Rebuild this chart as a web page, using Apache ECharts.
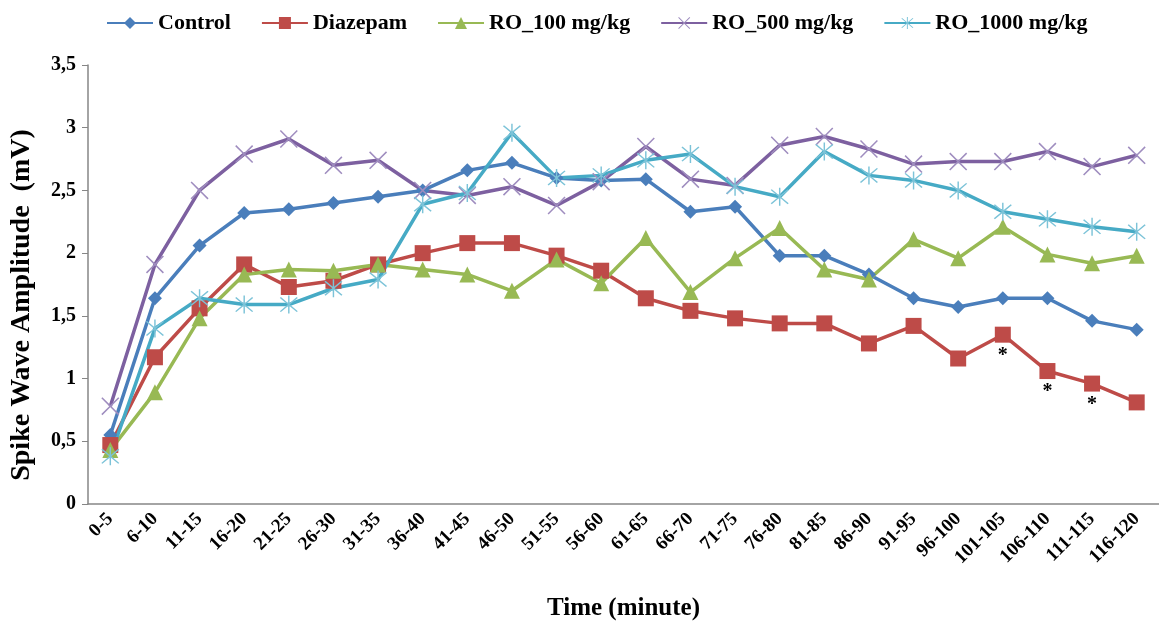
<!DOCTYPE html>
<html>
<head>
<meta charset="utf-8">
<script src="https://cdn.jsdelivr.net/npm/echarts@6/dist/echarts.min.js"></script>
<style>
  html, body { margin: 0; padding: 0; background: #fff; }
  #chart { width: 1159px; height: 626px; }
</style>
</head>
<body>
<div id="chart"></div>
<script>
// Time bins (minutes)
const categories = ['0-5','6-10','11-15','16-20','21-25','26-30','31-35','36-40','41-45','46-50','51-55','56-60',
  '61-65','66-70','71-75','76-80','81-85','86-90','91-95','96-100','101-105','106-110','111-115','116-120'];

// Spike wave amplitude (mV) per group
const control  = [0.55,1.64,2.06,2.32,2.35,2.40,2.45,2.50,2.66,2.72,2.60,2.58,2.59,2.33,2.37,1.98,1.98,1.83,1.64,1.57,1.64,1.64,1.46,1.39];
const diazepam = [0.47,1.17,1.56,1.91,1.73,1.78,1.91,2.00,2.08,2.08,1.98,1.86,1.64,1.54,1.48,1.44,1.44,1.28,1.42,1.16,1.35,1.06,0.96,0.81];
const ro100    = [0.43,0.89,1.48,1.83,1.87,1.86,1.91,1.87,1.83,1.70,1.95,1.76,2.12,1.69,1.96,2.20,1.87,1.79,2.11,1.96,2.21,1.99,1.92,1.98];
const ro500    = [0.78,1.91,2.50,2.79,2.91,2.70,2.74,2.50,2.46,2.53,2.38,2.57,2.85,2.59,2.54,2.86,2.93,2.83,2.71,2.73,2.73,2.81,2.69,2.78];
const ro1000   = [0.38,1.40,1.64,1.59,1.59,1.72,1.79,2.39,2.48,2.96,2.60,2.62,2.74,2.79,2.53,2.45,2.81,2.62,2.58,2.50,2.33,2.27,2.21,2.17];

// Significance marks on the diazepam series
const sigIdx = [20, 21, 22];

const yTicks = [0, 0.5, 1, 1.5, 2, 2.5, 3, 3.5];

const FONT = '"Liberation Serif", "Times New Roman", serif';
const X_PATH = 'path://M0,1.2 L1.2,0 L10,8.8 L18.8,0 L20,1.2 L11.2,10 L20,18.8 L18.8,20 L10,11.2 L1.2,20 L0,18.8 L8.8,10 Z';
const STAR_PATH = 'path://M0,1.2 L1.2,0 L10,8.8 L18.8,0 L20,1.2 L11.2,10 L20,18.8 L18.8,20 L10,11.2 L1.2,20 L0,18.8 L8.8,10 Z M9.2,-2 L10.8,-2 L10.8,22 L9.2,22 Z';

function lineSeries(name, data, color, symbol, size, extra) {
  return Object.assign({
    name: name,
    type: 'line',
    data: data,
    symbol: symbol,
    symbolSize: size,
    showAllSymbol: true,
    lineStyle: { color: color, width: 3.5 },
    itemStyle: { color: color },
    z: 2
  }, extra || {});
}

const diazData = diazepam.map((v, i) => sigIdx.includes(i)
  ? { value: v, label: { show: true, formatter: '*', position: 'bottom', distance: 3,
      color: '#000', fontSize: 20, fontWeight: 'bold', fontFamily: FONT } }
  : v);

const chart = echarts.init(document.getElementById('chart'), null, { renderer: 'canvas' });
chart.setOption({
  animation: false,
  backgroundColor: '#fff',
  textStyle: { fontFamily: FONT },
  legend: {
    top: 7,
    left: 101,
    itemWidth: 46,
    itemHeight: 15,
    itemGap: 30,
    textStyle: { fontFamily: FONT, fontWeight: 'bold', fontSize: 22, color: '#000' },
    data: ['Control', 'Diazepam', 'RO_100 mg/kg', 'RO_500 mg/kg', 'RO_1000 mg/kg']
  },
  grid: { left: 88, top: 65, width: 1077, bottom: 119, containLabel: false },
  graphic: [{
    type: 'text',
    x: 22,
    y: 305,
    rotation: Math.PI / 2,
    style: {
      text: 'Spike Wave Amplitude  (mV)',
      font: 'bold 28px "Liberation Serif", "Times New Roman", serif',
      fill: '#000',
      align: 'center',
      verticalAlign: 'middle'
    }
  }],
  xAxis: {
    type: 'category',
    data: categories,
    boundaryGap: true,
    name: 'Time (minute)',
    nameLocation: 'middle',
    nameGap: 92,
    nameTextStyle: { fontFamily: FONT, fontWeight: 'bold', fontSize: 25, color: '#000' },
    axisLine: { lineStyle: { color: '#868686', width: 1.5 } },
    axisTick: { show: false },
    axisLabel: { rotate: 45, interval: 0, margin: 12, fontFamily: FONT, fontWeight: 'bold', fontSize: 19, color: '#000' }
  },
  yAxis: {
    type: 'value',
    min: 0, max: 3.5, interval: 0.5,
    splitLine: { show: false },
    axisLine: { show: true, lineStyle: { color: '#868686', width: 1.5 } },
    axisTick: { show: true, length: 6, lineStyle: { color: '#868686' } },
    axisLabel: {
      margin: 12, fontFamily: FONT, fontWeight: 'bold', fontSize: 20, color: '#000',
      formatter: v => yTicks.includes(v) ? String(v).replace('.', ',') : ''
    }
  },
  series: [
    lineSeries('Control', control, '#4A7EBB', 'diamond', 14),
    lineSeries('Diazepam', diazData, '#BE4B48', 'rect', 16),
    lineSeries('RO_100 mg/kg', ro100, '#98B954', 'triangle', 16),
    lineSeries('RO_500 mg/kg', ro500, '#7D60A0', X_PATH, 18, { itemStyle: { color: '#9F8DBF' } }),
    lineSeries('RO_1000 mg/kg', ro1000, '#46AAC5', STAR_PATH, 18, { itemStyle: { color: '#7CC3D8' } })
  ]
});
</script>
</body>
</html>
